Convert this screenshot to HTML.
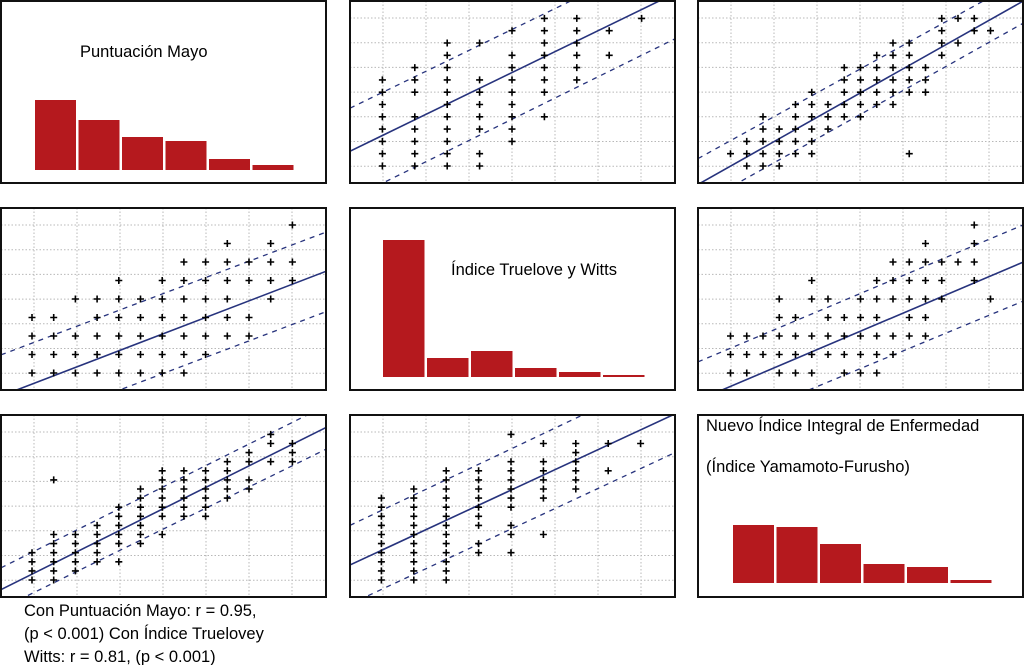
<!DOCTYPE html>
<html><head><meta charset="utf-8"><style>
html,body{margin:0;padding:0;background:#fff;}
svg{display:block;font-family:"Liberation Sans",Arial,sans-serif;}
</style></head><body>
<svg id="chart" width="1024" height="665" viewBox="0 0 1024 665"></svg>
<script>
// ---- histogram data ----
const mayoFreq = [70, 50, 33, 29, 11, 5];
const truelFreq = [137, 19, 26, 9, 5, 2];
const yfFreq = [58, 56, 39, 19, 16, 3];

// ---- scatter data: column x-values and y-values per column ----
const p12X = [1,2,3,4,5,6,7,8,9];
const p12Y = [[7,6,5,4,3,2,1,0],[8,7,6,4,3,2,1,0],[10,9,8,7,6,5,4,3,2,1,0],[10,7,6,5,4,3,1,0],[11,9,8,7,6,5,4,3,2],[12,11,10,9,8,7,6,4],[12,11,10,9,8,7],[11,9],[12]];
const p12Line = [1.2, 1.28, 4.7, 1.28, -2.7, 1.3];

const p13X = [2,3,4,5,6,7,8,9,10,11,12,13,14,15,16,17,18];
const p13Y = [[1],[2,1,0],[4,3,2,1,0],[3,2,1,0],[5,4,3,2,1],[6,5,4,3,2,1],[5,4,3],[8,7,6,5,4],[8,7,6,5,4],[9,8,7,6,5],[10,9,8,7,6,5],[10,9,8,7,6,1],[8,7,6],[12,11,10,9],[12,10],[12,11],[11]];
const p13Line = [-1.5, 0.745, 0.6, 0.73, -3.2, 0.74];

const p21X = [1,2,3,4,5,6,7,8,9,10,11,12,13];
const p21Y = [[3,2,1,0],[3,2,1,0],[4,2,1,0],[4,3,2,1,0],[5,4,3,2,1,0],[4,3,2,1,0],[5,4,3,2,1,0],[6,5,4,3,2,1,0],[6,5,4,3,2,1],[7,6,5,4,3,2],[6,5,3,2],[7,6,5,4],[8,6,5]];
const p21Line = [-1.05, 0.45, 1.17, 0.443, -3.16, 0.445];

const p23X = [2,3,4,5,6,7,8,9,10,11,12,13,14,15,16,17,18];
const p23Y = [[2,1,0],[2,1,0],[2,1],[4,3,2,1,0],[3,2,1,0],[5,4,2,1,0],[4,3,2,1],[3,2,1,0],[4,3,2,1,0],[5,4,3,2,1,0],[6,5,4,2,1],[6,5,4,3,2],[7,6,5,4,3,2],[6,5,4],[6],[8,7,6,5],[4]];
const p23Line = [-1.47, 0.373, 0.6, 0.37, -3.4, 0.364];

const p31X = [1,2,3,4,5,6,7,8,9,10,11,12,13];
const p31Y = [[3,2,1,0],[11,5,4,3,2,1,0],[5,4,3,2,1],[6,5,4,3,2],[8,7,6,5,4,2],[10,9,8,7,6,5,4],[12,11,10,9,8,7,5],[12,11,10,9,8,7],[12,11,10,9,8,7],[13,12,11,10,9],[14,13,11,10],[16,15,13],[15,14,13]];
const p31Line = [-0.55, 1.19, 1.85, 1.19, -2.65, 1.17];

const p32X = [1,2,3,4,5,6,7,8,9];
const p32Y = [[9,8,7,6,5,4,3,2,1,0],[10,9,8,7,6,5,4,3,2,1,0],[12,11,10,9,8,7,6,5,4,3,2,1,0],[12,11,10,9,8,7,6,4,3],[16,13,12,11,10,9,8,6,5,3],[15,13,12,11,10,9,5],[15,14,13,12,11,10],[15,12],[15]];
const p32Line = [1.6, 1.655, 5.95, 1.69, -2.7, 1.66];

const NS = "http://www.w3.org/2000/svg";
const svg = document.getElementById('chart');
function mk(tag, attrs, parent){ const e=document.createElementNS(NS,tag); for(const k in attrs) e.setAttribute(k,attrs[k]); (parent||svg).appendChild(e); return e; }

const colsX = [1, 350, 698];
const rowsY = [1, 208, 415];
const W = 325, H = 182;

function panelBox(r,c,name){
  const g = mk('g',{});
  
  
  const x=colsX[c], y=rowsY[r];
  const rect = mk('rect',{x:x,y:y,width:W,height:H,fill:'#fff',stroke:'#111','stroke-width':2},g);
  
  
  return g;
}

function scatterPanel(r,c,name,xs,ys,line,xStep,xOff,yStep){
  const g = panelBox(r,c,name);
  const L=colsX[c], T=rowsY[r];
  const cid='clip-'+name;
  const cp = mk('clipPath',{id:cid},g);
  mk('rect',{x:L+1,y:T+1,width:W-2,height:H-2},cp);
  const inner = mk('g',{'clip-path':'url(#'+cid+')'},g);
  // grid
  for(let k=0;k<7;k++){
    const gx=L+33+43*k;
    const vl = mk('line',{x1:gx,y1:T,x2:gx,y2:T+H,stroke:'#b8b8b8','stroke-width':1,'stroke-dasharray':'1.5,2'},inner);
    
    
    const gy=T+17+24.7*k;
    const hl = mk('line',{x1:L,y1:gy,x2:L+W,y2:gy,stroke:'#b8b8b8','stroke-width':1,'stroke-dasharray':'1.5,2'},inner);
    
    
  }
  const sx = u => L + xOff + xStep*u;
  const sy = v => T + 165 - yStep*v;
  const ux0 = (0 - xOff)/xStep, ux1 = (W - xOff)/xStep;
  // lines
  const specs=[[line[0],line[1],'regression-line',false],[line[2],line[3],'upper-band',true],[line[4],line[5],'lower-band',true]];
  specs.forEach(s=>{
    const ln = mk('line',{x1:sx(ux0),y1:sy(s[0]+s[1]*ux0),x2:sx(ux1),y2:sy(s[0]+s[1]*ux1),stroke:'#27337d','stroke-width':s[3]?1.3:1.6},inner);
    if(s[3]) ln.setAttribute('stroke-dasharray','5,5');
    
    
  });
  // points
  xs.forEach((u,i)=>{
    ys[i].forEach(v=>{
      const px=sx(u), py=sy(v);
      const p = mk('path',{d:`M${px-3.5},${py}H${px+3.5}M${px},${py-3.5}V${py+3.5}`,stroke:'#000','stroke-width':1.6},inner);
      
      
    });
  });
}

function histPanel(r,c,name,freq,x0,bw,gap,base,title){
  const g = panelBox(r,c,name);
  const T=rowsY[r];
  freq.forEach((f,i)=>{
    const b = mk('rect',{x:x0+i*(bw+gap),y:T+base-f,width:bw,height:f,fill:'#b5191e'},g);
    
    
  });
  title.forEach(t=>{
    const tx = mk('text',{x:t[0],y:T+t[1],'font-size':16.5,fill:'#000'},g);
    tx.textContent=t[2];
    
    
  });
}

histPanel(0,0,'mayo-histogram',mayoFreq,35,41,2.5,169,[[80,56,'Puntuación Mayo']]);
scatterPanel(0,1,'mayo-vs-truelove',p12X,p12Y,p12Line,32.4,0,12.3);
scatterPanel(0,2,'mayo-vs-yamamoto',p13X,p13Y,p13Line,16.25,0,12.3);
scatterPanel(1,0,'truelove-vs-mayo',p21X,p21Y,p21Line,21.7,9.3,18.5);
histPanel(1,1,'truelove-histogram',truelFreq,383,41.5,2.5,169,[[451,67,'Índice Truelove y Witts']]);
scatterPanel(1,2,'truelove-vs-yamamoto',p23X,p23Y,p23Line,16.25,0,18.5);
scatterPanel(2,0,'yamamoto-vs-mayo',p31X,p31Y,p31Line,21.7,9.3,9.1);
scatterPanel(2,1,'yamamoto-vs-truelove',p32X,p32Y,p32Line,32.4,-1,9.1);
histPanel(2,2,'yamamoto-histogram',yfFreq,733,41,2.5,168,[[706,16,'Nuevo Índice Integral de Enfermedad'],[706,57,'(Índice Yamamoto-Furusho)']]);

const notes=['Con Puntuación Mayo: r = 0.95,','(p < 0.001) Con Índice Truelovey','Witts: r = 0.81, (p < 0.001)'];
notes.forEach((t,i)=>{
  const tx = mk('text',{x:24,y:616+i*23,'font-size':16.5,fill:'#000'});
  tx.textContent=t;
  
  
});
</script>
</body></html>
